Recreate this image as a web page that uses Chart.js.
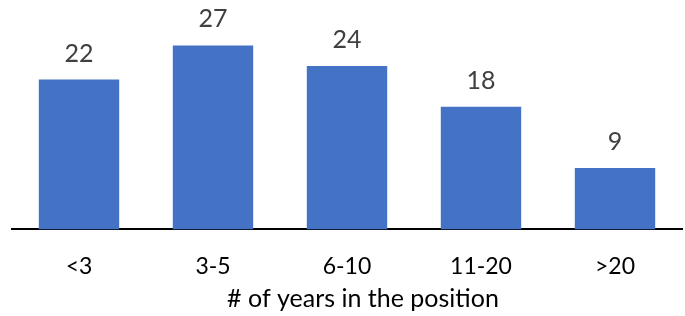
<!DOCTYPE html>
<html>
<head>
<meta charset="utf-8">
<script src="https://cdn.jsdelivr.net/npm/chart.js@4"></script>
<style>
  html, body { margin: 0; padding: 0; background: #fff; }
  #wrap { width: 685px; height: 316px; }
</style>
</head>
<body>
<div id="wrap"><canvas id="myChart"></canvas></div>
<script>
let categories = ["<3", "3-5", "6-10", "11-20", ">20"];
let counts = [22, 27, 24, 18, 9];
let xTitle = "# of years in the position";

// draws the numbers above each bar
const barLabels = {
  id: "barLabels",
  afterDatasetsDraw(chart) {
    let ctx = chart.ctx;
    let meta = chart.getDatasetMeta(0);
    ctx.save();
    ctx.font = "25px Lato";
    ctx.fillStyle = "#404040";
    ctx.textAlign = "center";
    ctx.textBaseline = "alphabetic";
    meta.data.forEach((bar, i) => {
      ctx.fillText(counts[i], bar.x, bar.y - 18);
    });
    ctx.restore();
  }
};

// the axis title sits a bit right of the plot centre in the original
const shiftTitle = {
  id: "shiftTitle",
  beforeDraw(chart) {
    let s = chart.scales.x;
    if (s && !s._shifted) {
      let orig = s.drawTitle.bind(s);
      s.drawTitle = function () {
        s.ctx.save();
        s.ctx.translate(16, 0);
        orig();
        s.ctx.restore();
      };
      s._shifted = true;
    }
  }
};

new Chart("myChart", {
  type: "bar",
  data: {
    labels: categories,
    datasets: [{
      data: counts,
      backgroundColor: "#4472C4",
      barPercentage: 0.6,
      categoryPercentage: 1.0
    }]
  },
  options: {
    responsive: true,
    maintainAspectRatio: false,
    animation: false,
    layout: { padding: { top: 25, left: 12, right: 3, bottom: 0 } },
    plugins: {
      legend: { display: false },
      tooltip: { enabled: false }
    },
    scales: {
      x: {
        grid: { display: false, tickLength: 23 },
        border: { color: "#000", width: 2 },
        ticks: { color: "#000", font: { family: "Lato", size: 23 }, padding: 0 },
        title: {
          display: true,
          text: xTitle,
          color: "#000",
          font: { family: "Lato", size: 25 },
          padding: { top: 4, bottom: 2 }
        }
      },
      y: {
        display: false,
        min: 0,
        max: 30
      }
    }
  },
  plugins: [barLabels, shiftTitle]
});
</script>
</body>
</html>
